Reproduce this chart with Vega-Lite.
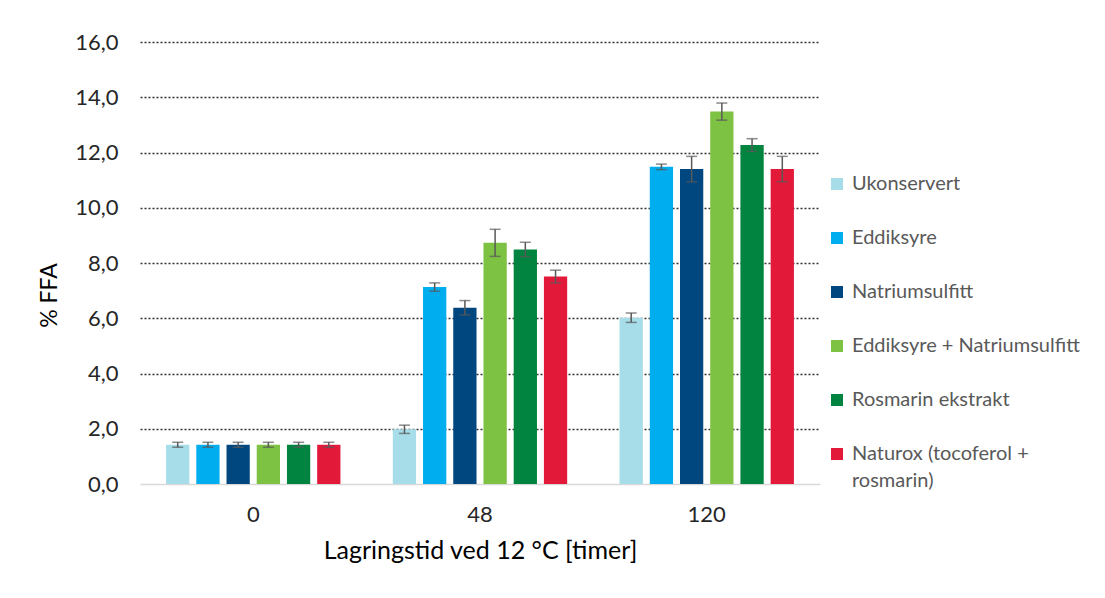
{
  "$schema": "https://vega.github.io/schema/vega-lite/v6.json",
  "autosize": {"type": "none"},
  "padding": {"left": 140, "top": 42, "right": 285, "bottom": 114},
  "width": 680,
  "height": 442,
  "background": "white",
  "config": {"font": "Lato", "view": {"stroke": null}},
  "data": {"values": [
    {"time": "0", "treatment": "Ukonservert", "value": 1.42, "lo": 1.33, "hi": 1.51},
    {"time": "0", "treatment": "Eddiksyre", "value": 1.42, "lo": 1.33, "hi": 1.51},
    {"time": "0", "treatment": "Natriumsulfitt", "value": 1.42, "lo": 1.33, "hi": 1.51},
    {"time": "0", "treatment": "Eddiksyre + Natriumsulfitt", "value": 1.42, "lo": 1.33, "hi": 1.51},
    {"time": "0", "treatment": "Rosmarin ekstrakt", "value": 1.42, "lo": 1.33, "hi": 1.51},
    {"time": "0", "treatment": "Naturox (tocoferol + rosmarin)", "value": 1.42, "lo": 1.33, "hi": 1.51},
    {"time": "48", "treatment": "Ukonservert", "value": 1.98, "lo": 1.83, "hi": 2.13},
    {"time": "48", "treatment": "Eddiksyre", "value": 7.13, "lo": 6.98, "hi": 7.28},
    {"time": "48", "treatment": "Natriumsulfitt", "value": 6.38, "lo": 6.12, "hi": 6.64},
    {"time": "48", "treatment": "Eddiksyre + Natriumsulfitt", "value": 8.73, "lo": 8.24, "hi": 9.22},
    {"time": "48", "treatment": "Rosmarin ekstrakt", "value": 8.49, "lo": 8.23, "hi": 8.75},
    {"time": "48", "treatment": "Naturox (tocoferol + rosmarin)", "value": 7.51, "lo": 7.28, "hi": 7.74},
    {"time": "120", "treatment": "Ukonservert", "value": 6.02, "lo": 5.85, "hi": 6.19},
    {"time": "120", "treatment": "Eddiksyre", "value": 11.48, "lo": 11.38, "hi": 11.58},
    {"time": "120", "treatment": "Natriumsulfitt", "value": 11.4, "lo": 10.94, "hi": 11.86},
    {"time": "120", "treatment": "Eddiksyre + Natriumsulfitt", "value": 13.48, "lo": 13.17, "hi": 13.79},
    {"time": "120", "treatment": "Rosmarin ekstrakt", "value": 12.27, "lo": 12.04, "hi": 12.5},
    {"time": "120", "treatment": "Naturox (tocoferol + rosmarin)", "value": 11.4, "lo": 10.94, "hi": 11.86}
  ]},
  "encoding": {
    "x": {
      "field": "time", "type": "nominal", "sort": ["0", "48", "120"],
      "scale": {"paddingInner": 0.231, "paddingOuter": 0.115},
      "title": "Lagringstid ved 12 °C [timer]",
      "axis": {
        "domainColor": "#d9d9d9", "domainWidth": 1.5, "ticks": false, "labelAngle": 0,
        "labelFontSize": 22, "labelPadding": 20, "labelColor": "#262626",
        "titleFontSize": 25, "titleFontWeight": "normal", "titleColor": "#000000", "titlePadding": 13,
        "grid": false
      }
    },
    "xOffset": {
      "field": "treatment", "type": "nominal",
      "sort": ["Ukonservert", "Eddiksyre", "Natriumsulfitt", "Eddiksyre + Natriumsulfitt", "Rosmarin ekstrakt", "Naturox (tocoferol + rosmarin)"],
      "scale": {"paddingInner": 0.23, "paddingOuter": 0}
    }
  },
  "layer": [
    {
      "mark": {"type": "bar"},
      "encoding": {
        "y": {
          "field": "value", "type": "quantitative",
          "scale": {"domain": [0, 16], "nice": false},
          "title": "% FFA",
          "axis": {
            "values": [0, 2, 4, 6, 8, 10, 12, 14, 16],
            "grid": true, "gridDash": [2, 2], "gridColor": "#333333", "gridWidth": 1.5,
            "gridOpacity": {"condition": {"test": "datum.value === 0", "value": 0}, "value": 1},
            "domain": false, "ticks": false, "labelPadding": 22, "labelFontSize": 22, "labelColor": "#262626",
            "labelExpr": "replace(format(datum.value, '.1f'), '.', ',')",
            "titleFontSize": 23, "titleFontWeight": "normal", "titleColor": "#000000",
            "titleX": -91, "titleY": 253, "titleBaseline": "middle", "titleAlign": "center"
          }
        },
        "color": {
          "field": "treatment", "type": "nominal",
          "sort": ["Ukonservert", "Eddiksyre", "Natriumsulfitt", "Eddiksyre + Natriumsulfitt", "Rosmarin ekstrakt", "Naturox (tocoferol + rosmarin)"],
          "scale": {
            "domain": ["Ukonservert", "Eddiksyre", "Natriumsulfitt", "Eddiksyre + Natriumsulfitt", "Rosmarin ekstrakt", "Naturox (tocoferol + rosmarin)"],
            "range": ["#A6DDE9", "#00AEEF", "#00477F", "#7DC242", "#00843F", "#E3193A"]
          },
          "legend": {
            "orient": "none", "legendX": 687, "legendY": 132, "title": null, "padding": 0,
            "symbolType": "square", "symbolSize": 144, "symbolStrokeWidth": 0,
            "labelFontSize": 20, "labelColor": "#595959", "labelOffset": 5, "rowPadding": 34,
            "labelLimit": 400, "labelBaseline": "middle",
            "labelExpr": "datum.label === 'Naturox (tocoferol + rosmarin)' ? ['Naturox (tocoferol +', 'rosmarin)'] : datum.label",
            "encode": {"labels": {"update": {"lineHeight": {"value": 27}}}}
          }
        }
      }
    },
    {
      "mark": {"type": "rule", "color": "#595959", "strokeWidth": 1.5},
      "encoding": {
        "y": {"field": "lo", "type": "quantitative"},
        "y2": {"field": "hi"}
      }
    },
    {
      "mark": {"type": "tick", "color": "#595959", "thickness": 1.5, "size": 11},
      "encoding": {"y": {"field": "lo", "type": "quantitative"}}
    },
    {
      "mark": {"type": "tick", "color": "#595959", "thickness": 1.5, "size": 11},
      "encoding": {"y": {"field": "hi", "type": "quantitative"}}
    }
  ]
}
